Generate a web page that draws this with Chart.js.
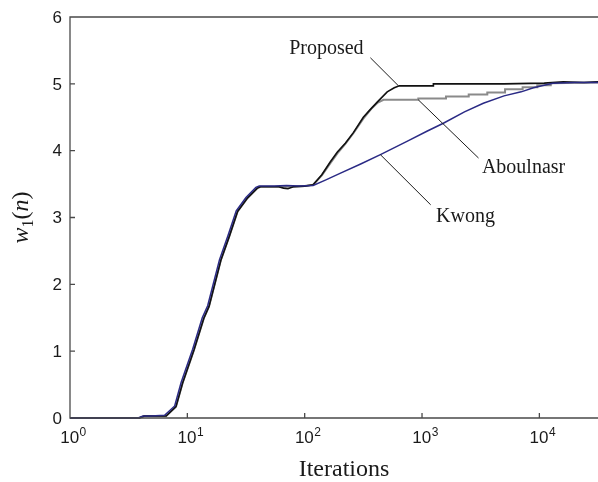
<!DOCTYPE html>
<html>
<head>
<meta charset="utf-8">
<script src="https://cdn.jsdelivr.net/npm/chart.js@4.4.0/dist/chart.umd.min.js"></script>
<style>
html,body{margin:0;padding:0;background:#fff}
#chart{display:block}
</style>
</head>
<body>
<canvas id="chart" width="598" height="482"></canvas>
<script>
// axis ticks
const xTicks = [1, 10, 100, 1000, 10000];
const xTickExp = ['0', '1', '2', '3', '4'];
const yTicks = [0, 1, 2, 3, 4, 5, 6];

// Kwong (blue)
const kwongN = [1, 3.8, 4.2, 4.9, 6.4, 7.8, 8.85, 11.1, 13.4, 14.9, 18.8, 22.1, 26.1, 31.6, 38.4, 41, 55, 70, 90, 118,
  150, 200, 300, 442, 766, 1100, 1520, 2300, 3330, 5000, 7000, 8900, 13000, 20000, 32000];
const kwongW = [0, 0, 0.03, 0.03, 0.04, 0.18, 0.53, 1.03, 1.50, 1.68, 2.37, 2.72, 3.10, 3.30, 3.45, 3.47, 3.47, 3.48, 3.47, 3.48,
  3.56, 3.66, 3.80, 3.94, 4.15, 4.29, 4.41, 4.58, 4.71, 4.82, 4.88, 4.94, 5.01, 5.02, 5.02];

// Proposed (black)
const propN = [1, 3.9, 4.3, 5, 6.6, 8.0, 9.1, 11.4, 13.8, 15.3, 19.3, 22.7, 26.8, 32.5, 39.5, 42, 60, 66, 72, 80,
  100, 118, 140, 165, 190, 222, 260, 316, 360, 417, 505, 580, 640, 1250, 1250, 5000, 11000, 16000, 24000, 32000];
const propW = [0, 0, 0.03, 0.03, 0.03, 0.17, 0.52, 1.02, 1.49, 1.67, 2.36, 2.71, 3.09, 3.29, 3.44, 3.46, 3.46, 3.44, 3.43, 3.46,
  3.47, 3.49, 3.64, 3.83, 3.98, 4.11, 4.27, 4.50, 4.61, 4.73, 4.88, 4.94, 4.97, 4.97, 5.00, 5.00, 5.01, 5.03, 5.02, 5.03];

// Aboulnasr (grey)
const abN = [1, 3.9, 4.3, 5, 6.6, 8.0, 9.1, 11.4, 13.8, 15.3, 19.3, 22.7, 26.8, 32.5, 39.5, 42, 60, 80, 100, 118,
  140, 165, 190, 222, 260, 316, 375, 420, 470, 930, 930, 1600, 1600, 2500, 2500, 3600, 3600, 5100, 5100, 7200,
  7200, 9600, 9600, 12500, 12500, 32000];
const abW = [0, 0, 0.03, 0.03, 0.03, 0.17, 0.52, 1.02, 1.49, 1.67, 2.36, 2.71, 3.09, 3.29, 3.44, 3.46, 3.46, 3.46, 3.47, 3.49,
  3.63, 3.81, 3.96, 4.10, 4.26, 4.48, 4.64, 4.72, 4.76, 4.76, 4.78, 4.78, 4.81, 4.81, 4.84, 4.84, 4.87, 4.87, 4.92, 4.92,
  4.95, 4.95, 4.98, 4.98, 5.01, 5.02];

// curve labels, in data coords (n, w)
const seriesNames = ['Proposed', 'Aboulnasr', 'Kwong'];
const labelPos = [[153, 5.52], [7330, 3.74], [2350, 3.01]];
const leaderCurve = [[630, 4.97], [930, 4.76], [442, 3.94]];
const leaderText = [[363, 5.39], [3030, 3.89], [1185, 3.19]];

const pts = (n, w) => n.map((v, i) => ({x: v, y: w[i]}));

const serif = '"Liberation Serif", "Times New Roman", serif';
const sans = '"Liberation Sans", Arial, sans-serif';

const frame = {
  id: 'frame',
  afterDatasetsDraw(chart){
    const {ctx, chartArea: a, scales: {x, y}} = chart;
    ctx.save();
    // box (top, left, bottom)
    ctx.strokeStyle = '#4a4a4a'; ctx.lineWidth = 1.3;
    ctx.beginPath();
    ctx.moveTo(a.right + 2, a.top); ctx.lineTo(a.left, a.top);
    ctx.lineTo(a.left, a.bottom); ctx.lineTo(a.right + 2, a.bottom);
    xTicks.forEach(v => { const px = x.getPixelForValue(v); ctx.moveTo(px, a.bottom); ctx.lineTo(px, a.bottom - 5); });
    yTicks.forEach(v => { const py = y.getPixelForValue(v); ctx.moveTo(a.left, py); ctx.lineTo(a.left + 5, py); });
    ctx.stroke();

    ctx.fillStyle = '#1a1a1a';
    // y tick labels
    ctx.font = '17px ' + sans; ctx.textAlign = 'right'; ctx.textBaseline = 'middle';
    yTicks.forEach(v => ctx.fillText(String(v), a.left - 8, y.getPixelForValue(v) + 1));
    // x tick labels 10^k
    ctx.textAlign = 'left'; ctx.textBaseline = 'alphabetic';
    xTicks.forEach((v, i) => {
      const px = x.getPixelForValue(v);
      ctx.font = '17px ' + sans; const wb = ctx.measureText('10').width;
      ctx.font = '12px ' + sans; const we = ctx.measureText(xTickExp[i]).width;
      const x0 = px + 3 - (wb + we) / 2;
      ctx.font = '17px ' + sans; ctx.fillText('10', x0, a.bottom + 25);
      ctx.font = '12px ' + sans; ctx.fillText(xTickExp[i], x0 + wb + 0.5, a.bottom + 18);
    });

    // x title
    ctx.font = '24px ' + serif; ctx.textAlign = 'center';
    ctx.fillText('Iterations', (a.left + a.right) / 2 + 10, a.bottom + 58);

    // y title w1(n), rotated
    ctx.save();
    ctx.translate(28, (a.top + a.bottom) / 2);
    ctx.rotate(-Math.PI / 2);
    const parts = [['w', 'italic 24px ', 0], ['1', '16px ', 5], ['(', '24px ', 0], ['n', 'italic 24px ', 0], [')', '24px ', 0]];
    let tot = 0;
    parts.forEach(p => { ctx.font = p[1] + serif; p.push(ctx.measureText(p[0]).width); tot += p[3]; });
    let cx = -tot / 2;
    ctx.textAlign = 'left';
    parts.forEach(p => { ctx.font = p[1] + serif; ctx.fillText(p[0], cx, p[2]); cx += p[3]; });
    ctx.restore();

    // curve annotations
    ctx.strokeStyle = '#1a1a1a'; ctx.lineWidth = 1;
    ctx.beginPath();
    leaderCurve.forEach((c, i) => {
      ctx.moveTo(x.getPixelForValue(c[0]), y.getPixelForValue(c[1]));
      ctx.lineTo(x.getPixelForValue(leaderText[i][0]), y.getPixelForValue(leaderText[i][1]));
    });
    ctx.stroke();
    ctx.font = '20px ' + serif; ctx.textAlign = 'center'; ctx.textBaseline = 'middle';
    seriesNames.forEach((s, i) => ctx.fillText(s, x.getPixelForValue(labelPos[i][0]), y.getPixelForValue(labelPos[i][1])));
    ctx.restore();
  }
};

new Chart(document.getElementById('chart').getContext('2d'), {
  type: 'line',
  data: {
    datasets: [
      {label: 'Kwong', data: pts(kwongN, kwongW), borderColor: '#2a2a85', borderWidth: 1.5, clip: false},
      {label: 'Proposed', data: pts(propN, propW), borderColor: '#111111', borderWidth: 1.6, clip: false},
      {label: 'Aboulnasr', data: pts(abN, abW), borderColor: '#8a8a8a', borderWidth: 2, clip: false}
    ]
  },
  options: {
    responsive: false,
    animation: false,
    events: [],
    elements: {point: {radius: 0}, line: {tension: 0, fill: false}},
    layout: {padding: {left: 70, top: 17, right: 0, bottom: 64}},
    plugins: {legend: {display: false}, tooltip: {enabled: false}},
    scales: {
      x: {type: 'logarithmic', min: 1, max: 31600, display: false},
      y: {type: 'linear', min: 0, max: 6, display: false}
    }
  },
  plugins: [frame]
});
</script>
</body>
</html>
